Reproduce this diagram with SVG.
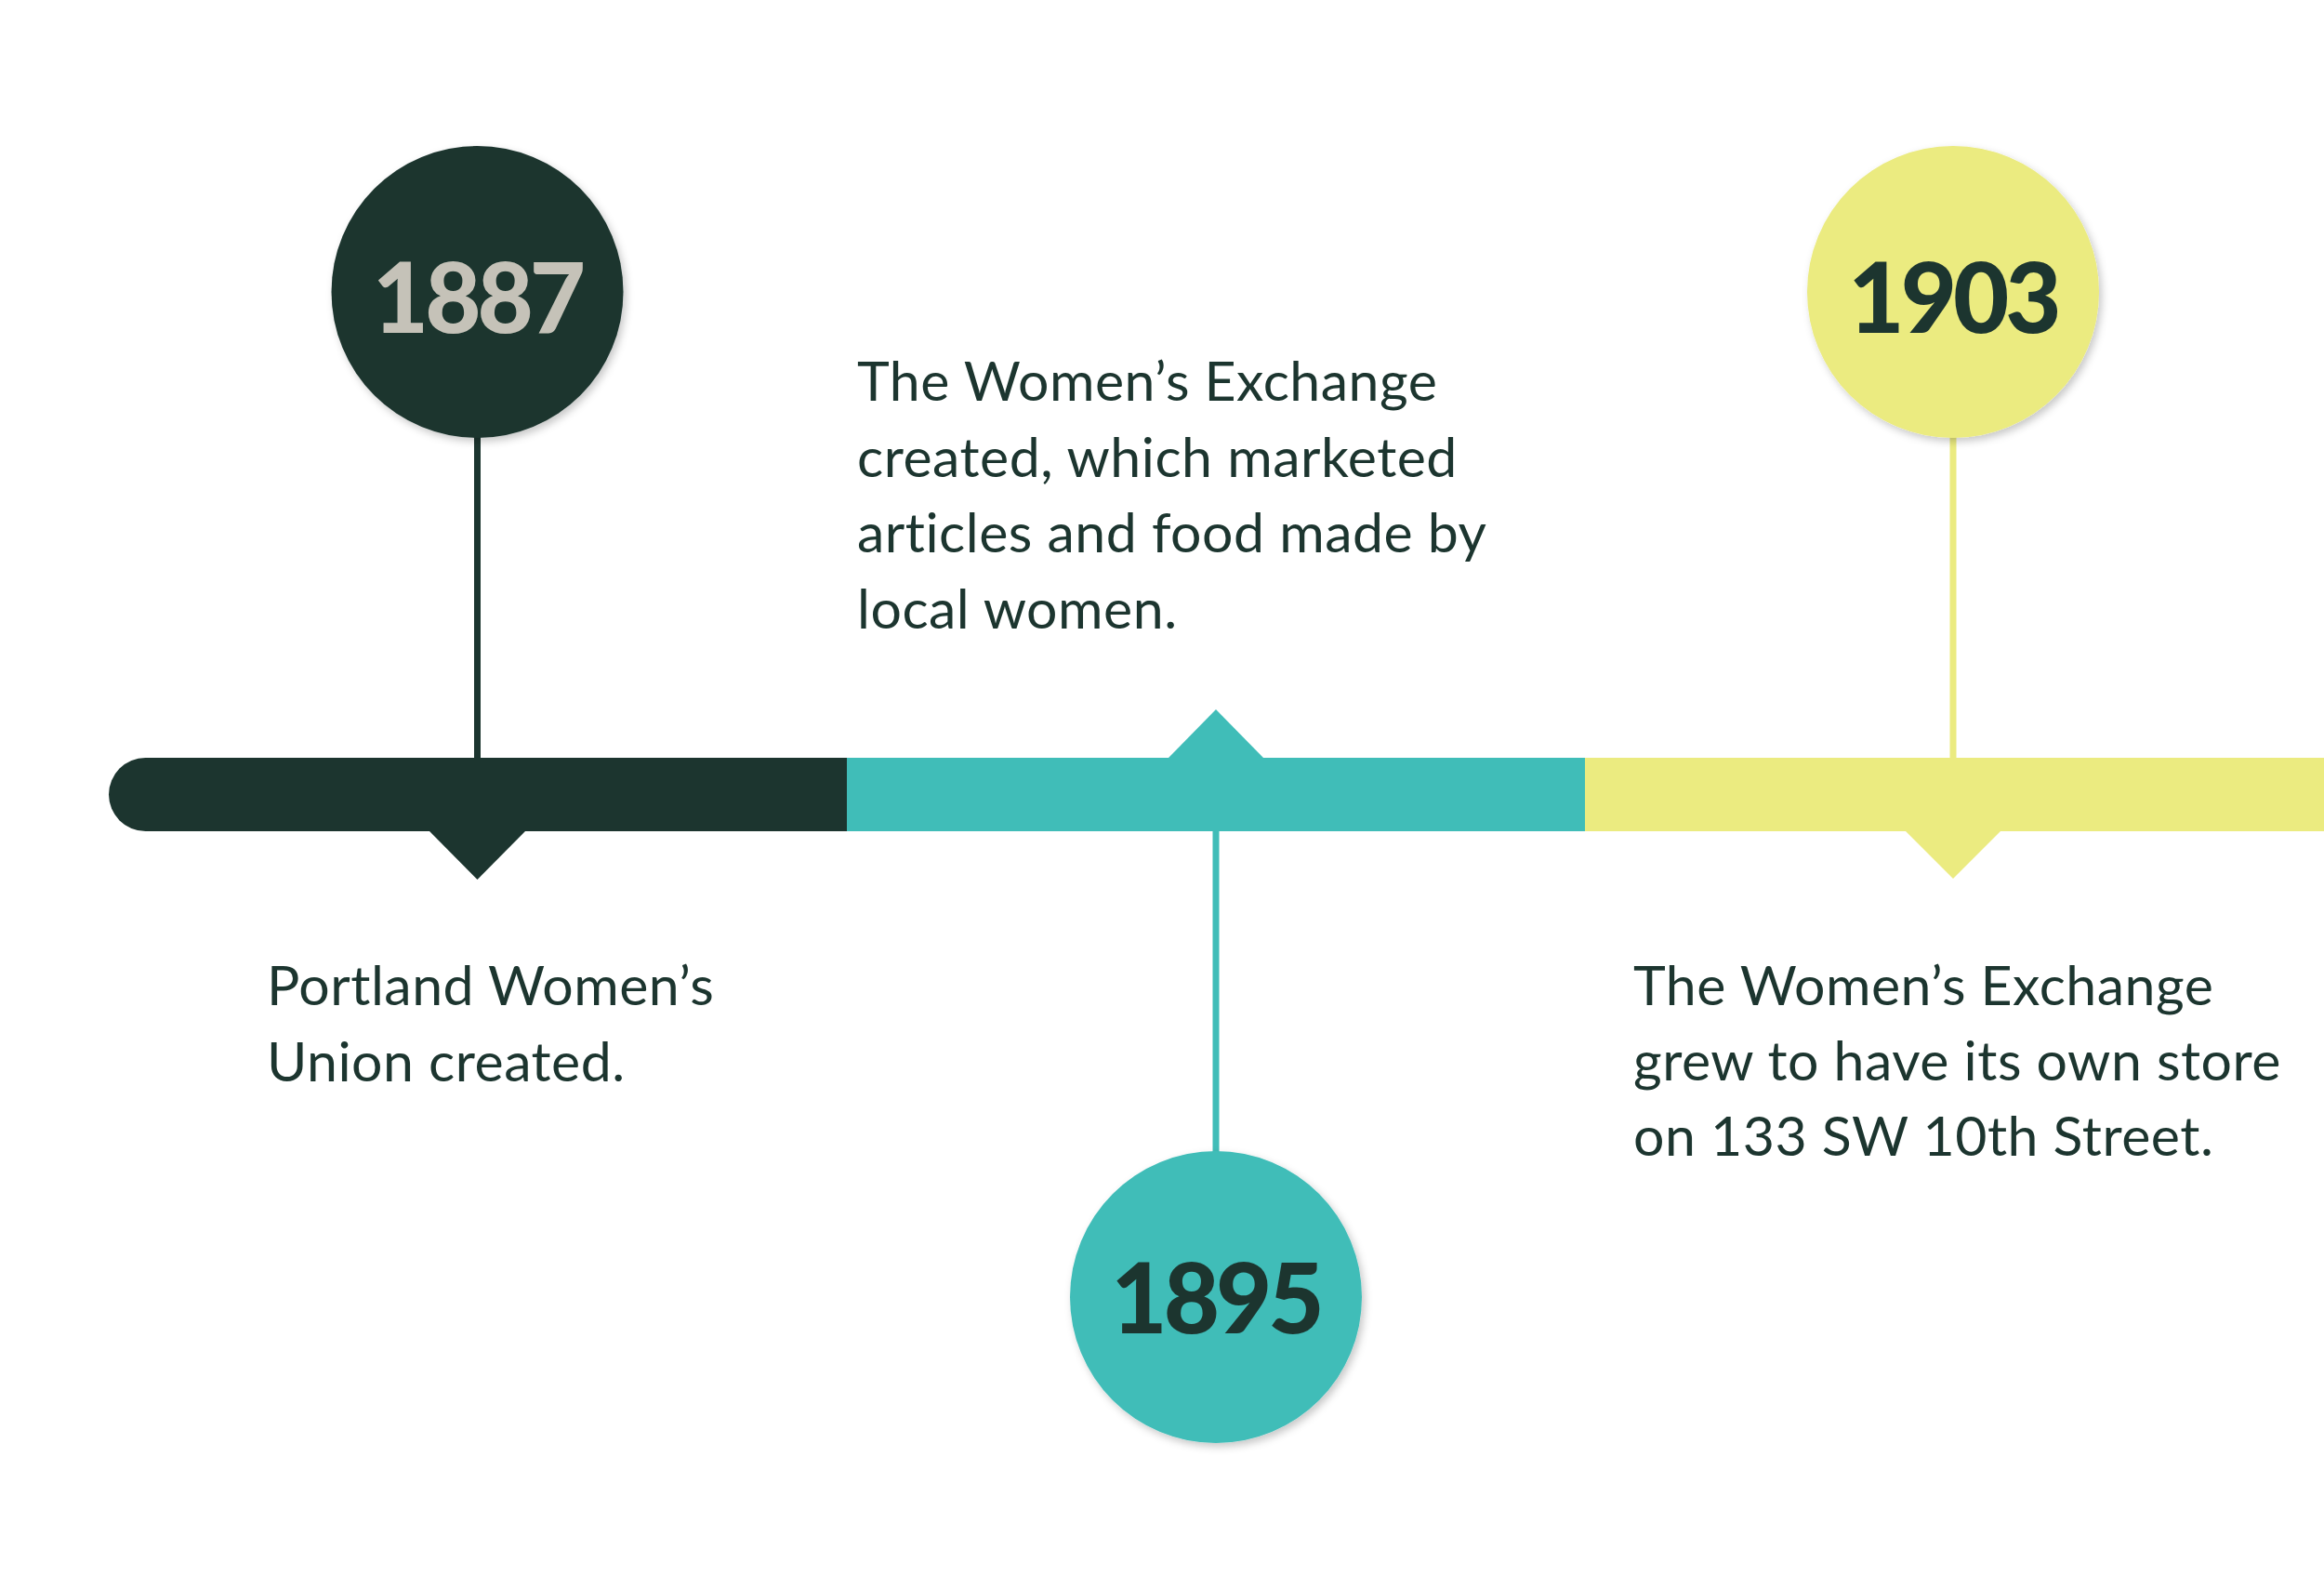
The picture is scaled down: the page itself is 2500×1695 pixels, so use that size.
<svg xmlns="http://www.w3.org/2000/svg" width="2500" height="1695" viewBox="0 0 2500 1695">
<defs>
<style>
.body{font-family:Lato,"Liberation Sans",sans-serif;font-size:59px;letter-spacing:0.5px;fill:#1c352f;}
.year{font-family:Lato,"Liberation Sans",sans-serif;font-size:104px;font-weight:900;text-anchor:middle;letter-spacing:-4px;}
.stem{stroke-width:7;fill:none;}
</style>
<filter id="sh" x="-20%" y="-20%" width="140%" height="140%">
<feDropShadow dx="3" dy="4" stdDeviation="4" flood-color="#000" flood-opacity="0.22"/>
</filter>
</defs>
<rect width="2500" height="1695" fill="#fff"/>
<g id="timeline">
<path d="M156.5,815 H911 V894 H156.5 A39.5,39.5 0 0 1 156.5,815 Z" fill="#1c352f"/>
<rect x="911" y="815" width="794" height="79" fill="#40bdb8"/>
<rect x="1705" y="815" width="795" height="79" fill="#ebeb80"/>
<path d="M461,893 L513.5,946 L566,893 Z" fill="#1c352f"/>
<path d="M1256,816 L1308,763 L1360,816 Z" fill="#40bdb8"/>
<path d="M2049,893 L2101,945 L2153,893 Z" fill="#ebeb80"/>
</g>
<g id="connectors">
<line class="stem" x1="513.5" y1="468" x2="513.5" y2="816" stroke="#1c352f"/>
<line class="stem" x1="1308" y1="893" x2="1308" y2="1240" stroke="#40bdb8"/>
<line class="stem" x1="2101" y1="468" x2="2101" y2="816" stroke="#ebeb80"/>
</g>
<g id="event-1887">
<circle cx="513.5" cy="314" r="157" fill="#1c352f" filter="url(#sh)"/>
<text class="year" x="513.5" y="358" fill="#c5c2b8">1887</text>
<text class="body"><tspan x="287" y="1081">Portland Women’s</tspan><tspan x="287" y="1163">Union created.</tspan></text>
</g>
<g id="event-1895">
<circle cx="1308" cy="1395" r="157" fill="#40bdb8" filter="url(#sh)"/>
<text class="year" x="1308" y="1434" fill="#1c352f">1895</text>
<text class="body"><tspan x="922" y="431">The Women’s Exchange</tspan><tspan x="922" y="513">created, which marketed</tspan><tspan x="922" y="594">articles and food made by</tspan><tspan x="922" y="676">local women.</tspan></text>
</g>
<g id="event-1903">
<circle cx="2101" cy="314" r="157" fill="#ebeb80" filter="url(#sh)"/>
<text class="year" x="2101" y="358" fill="#1c352f">1903</text>
<text class="body"><tspan x="1757" y="1081">The Women’s Exchange</tspan><tspan x="1757" y="1162">grew to have its own store</tspan><tspan x="1757" y="1243">on 133 SW 10th Street.</tspan></text>
</g>
</svg>
